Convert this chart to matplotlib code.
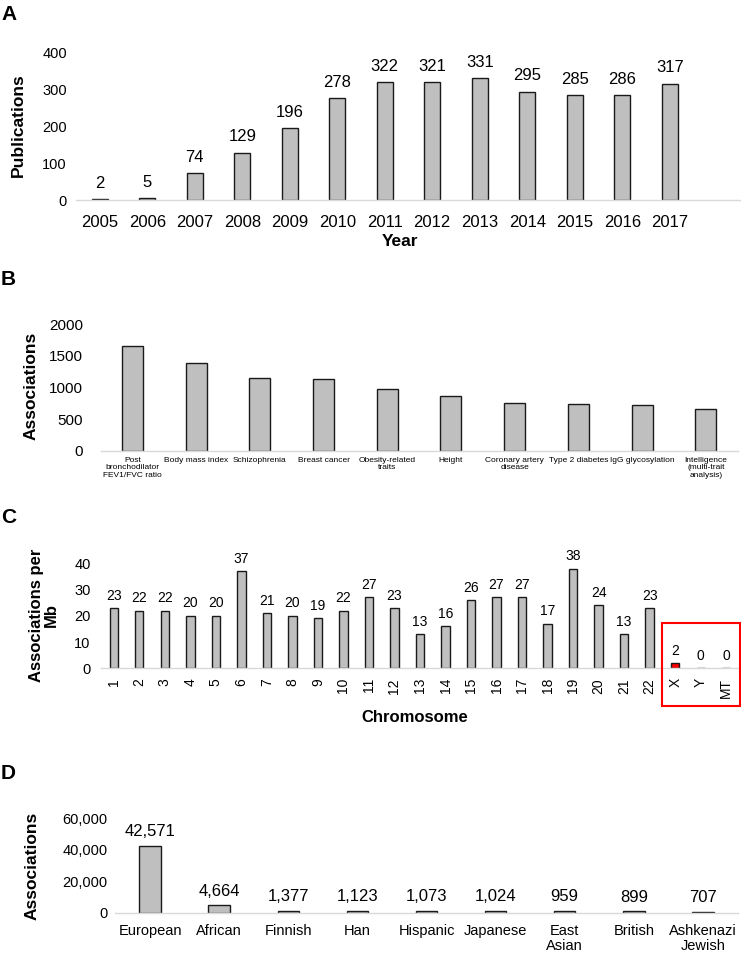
import numpy as np
import matplotlib.pyplot as plt
from matplotlib.patches import Rectangle

plt.rcParams['font.family'] = ['Liberation Sans', 'DejaVu Sans']

W, H = 741, 956

# panel A
years = ['2005', '2006', '2007', '2008', '2009', '2010', '2011', '2012',
         '2013', '2014', '2015', '2016', '2017']
publications = [2, 5, 74, 129, 196, 278, 322, 321, 331, 295, 285, 286, 317]

# panel B
traits = ['Post\nbronchodilator\nFEV1/FVC ratio', 'Body mass index', 'Schizophrenia',
          'Breast cancer', 'Obesity-related\ntraits', 'Height', 'Coronary artery\ndisease',
          'Type 2 diabetes', 'IgG glycosylation', 'Intelligence\n(multi-trait\nanalysis)']
trait_assoc = [1650, 1390, 1145, 1140, 975, 870, 760, 738, 718, 665]

# panel C
chromosomes = [str(i) for i in range(1, 23)] + ['X', 'Y', 'MT']
assoc_per_mb = [23, 22, 22, 20, 20, 37, 21, 20, 19, 22, 27, 23, 13, 16, 26, 27, 27,
                17, 38, 24, 13, 23, 2, 0, 0]

# panel D
ancestry = ['European', 'African', 'Finnish', 'Han', 'Hispanic', 'Japanese',
            'East\nAsian', 'British', 'Ashkenazi\nJewish']
ancestry_assoc = [42571, 4664, 1377, 1123, 1073, 1024, 959, 899, 707]

GREY = '#bfbfbf'


def px_axes(l, r, t, b):
    return [l / W, 1 - b / H, (r - l) / W, (b - t) / H]


def style(ax, n, ylim, yticks, ypad, fmt='{:g}', ysize=10.5):
    for s in ['top', 'right', 'left']:
        ax.spines[s].set_visible(False)
    ax.spines['bottom'].set_color('#d9d9d9')
    ax.spines['bottom'].set_linewidth(1.0)
    ax.set_xlim(-0.5, n - 0.5)
    ax.set_ylim(*ylim)
    ax.set_yticks(yticks)
    ax.set_yticklabels([fmt.format(v) for v in yticks], fontsize=ysize)
    ax.tick_params(axis='both', length=0)
    ax.tick_params(axis='y', pad=ypad)
    ax.patch.set_alpha(0)


def values(ax, x, vals, gap, size, fmt='{:,}'):
    for xi, v in zip(x, vals):
        ax.annotate(fmt.format(v), (xi, v), xytext=(0, gap), textcoords='offset points',
                    ha='center', va='baseline', fontsize=size)


def ftext(x, y, s, **kw):
    fig.text(x / W, 1 - y / H, s, ha='center', va='center', **kw)


fig = plt.figure(figsize=(W / 100, H / 100), dpi=100)

# A
axA = fig.add_axes(px_axes(76, 741, 53, 200))
xa = np.arange(len(years))
axA.bar(xa, publications, width=0.33, color=GREY, edgecolor='#1a1a1a', linewidth=1.0)
style(axA, 14, (0, 400), [0, 100, 200, 300, 400], 6.5)
axA.set_xticks(xa)
axA.set_xticklabels(years, fontsize=12)
axA.tick_params(axis='x', pad=10.5)
values(axA, xa, publications, 8, 12)
ftext(18, 125, 'Publications', rotation=90, fontsize=12.5, fontweight='bold')
ftext(400, 242, 'Year', fontsize=12.5, fontweight='bold')

# B
axB = fig.add_axes(px_axes(100.6, 737.6, 324.3, 450.7))
xb = np.arange(len(traits))
axB.bar(xb, trait_assoc, width=0.33, color=GREY, edgecolor='#1a1a1a', linewidth=1.0)
style(axB, 10, (0, 2000), [0, 500, 1000, 1500, 2000], 12.5, ysize=11)
axB.set_xticks(xb)
axB.set_xticklabels(traits, fontsize=6, linespacing=1.1, va='top')
axB.tick_params(axis='x', pad=4.5)
ftext(31, 386, 'Associations', rotation=90, fontsize=12.5, fontweight='bold')

# C
axC = fig.add_axes(px_axes(101, 739, 563.3, 668.3))
xc = np.arange(len(chromosomes))
colsC = [GREY] * 22 + ['#ff0000', GREY, GREY]
axC.bar(xc, assoc_per_mb, width=0.33, color=colsC, edgecolor='#1a1a1a', linewidth=1.0)
style(axC, 25, (0, 40), [0, 10, 20, 30, 40], 7.5, ysize=10.5)
axC.set_xticks(xc)
axC.set_xticklabels(chromosomes, fontsize=10, rotation=90)
axC.tick_params(axis='x', pad=7)
values(axC, xc, assoc_per_mb, 6, 10)
ftext(44, 615, 'Associations per\nMb', rotation=90, fontsize=12, fontweight='bold',
      linespacing=1.0)
ftext(415, 718, 'Chromosome', fontsize=12, fontweight='bold')
fig.add_artist(Rectangle((662 / W, 1 - 706 / H), 78 / W, 83 / H, transform=fig.transFigure,
                         fill=False, edgecolor='#ff0000', linewidth=1.5))

# D
axD = fig.add_axes(px_axes(115.5, 737.5, 818.3, 912.7))
xd = np.arange(len(ancestry))
axD.bar(xd, ancestry_assoc, width=0.31, color=GREY, edgecolor='#1a1a1a', linewidth=1.0)
style(axD, 9, (0, 60000), [0, 20000, 40000, 60000], 5.5, fmt='{:,}')
axD.set_xticks(xd)
axD.set_xticklabels(ancestry, fontsize=10.5, linespacing=1.1)
axD.tick_params(axis='x', pad=8)
values(axD, xd, ancestry_assoc, 7, 12)
ftext(32, 866, 'Associations', rotation=90, fontsize=12.5, fontweight='bold')

# panel letters
for letter, y in zip('ABCD', [14.5, 279.5, 517.5, 773.5]):
    fig.text(1 / W, 1 - y / H, letter, ha='left', va='center', fontsize=15, fontweight='bold')

fig.savefig('out.png', dpi=100)
